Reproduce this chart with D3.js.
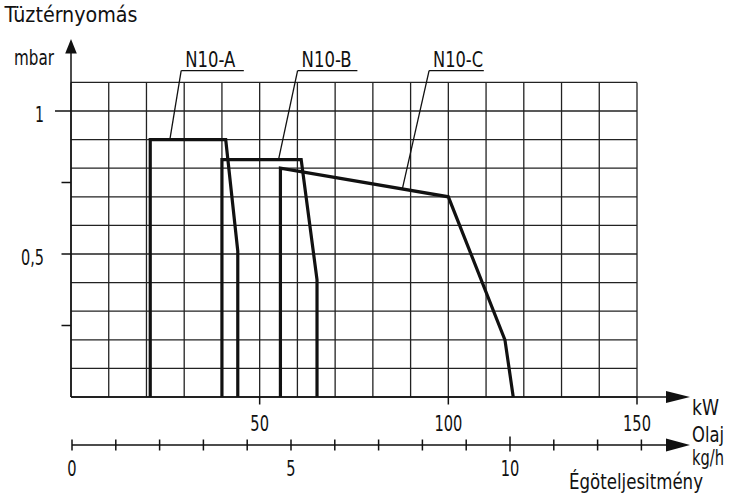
<!DOCTYPE html>
<html><head><meta charset="utf-8">
<script src="https://cdn.jsdelivr.net/npm/d3@7"></script>
<style>body{margin:0;background:#fff}</style></head>
<body><svg id="c" width="736" height="500"></svg>
<script>
// ---- data ----
const kwGridTicks = d3.range(0, 151, 10);
const mbarGridTicks = d3.range(0, 1.101, 0.1);
const kwTickLabels = [50, 100, 150];
const kgMinorTicks = d3.range(0, 14, 1);
const kgTickLabels = [0, 5, 10];
const yTickLabels = [{v: 1, t: "1"}, {v: 0.5, t: "0,5"}];
const yMinorTicks = [0.25, 0.75];
const seriesNames = ["N10-A", "N10-B", "N10-C"];
const seriesA = [[21, 0], [21, 0.9], [41, 0.9], [44.2, 0.51], [44.2, 0]];
const seriesB = [[40, 0], [40, 0.83], [61, 0.83], [65.2, 0.41], [65.2, 0]];
const seriesC = [[55.5, 0], [55.5, 0.8], [100, 0.7], [115, 0.2], [117.2, 0]];
const leaderTargets = [[26.2, 0.9], [55.0, 0.83], [87.8, 0.727]];

// ---- layout ----
const svg = d3.select("#c");
const x = d3.scaleLinear().domain([0, 150]).range([71, 637]);
const y = d3.scaleLinear().domain([0, 1.1]).range([397, 82.4]);
const kg = d3.scaleLinear().domain([0, 10]).range([72, 510]);
const ink = "#111";
const FONT = "'Liberation Sans Narrow','DejaVu Sans Condensed','Liberation Sans',sans-serif";

function txt(s, xx, yy, len, anchor) {
  return svg.append("text").attr("x", xx).attr("y", yy)
    .attr("font-family", FONT).attr("font-size", 21).attr("fill", ink)
    .attr("text-anchor", anchor || "start")
    .attr("textLength", len).attr("lengthAdjust", "spacingAndGlyphs")
    .text(s);
}

// grid
const g = svg.append("g").attr("stroke", "#222").attr("stroke-width", 1.3).attr("fill", "none");
g.selectAll("line.v").data(kwGridTicks).join("line")
  .attr("x1", d => x(d)).attr("x2", d => x(d)).attr("y1", y(0)).attr("y2", y(1.1));
g.selectAll("line.h").data(mbarGridTicks).join("line")
  .attr("x1", x(0)).attr("x2", x(150)).attr("y1", d => y(d)).attr("y2", d => y(d));

// axes
const ax = svg.append("g").attr("stroke", ink).attr("stroke-width", 1.5);
// y axis
ax.append("line").attr("x1", x(0)).attr("x2", x(0)).attr("y1", y(0)).attr("y2", 50);
svg.append("path").attr("fill", ink)
  .attr("d", `M${x(0)},39 L${x(0) + 5.8},53.5 L${x(0) - 5.8},53.5 Z`);
ax.selectAll("line.yt").data(yTickLabels).join("line")
  .attr("x1", d => d.v === 1 ? x(0) - 16 : x(0) - 9.5).attr("x2", x(0))
  .attr("y1", d => y(d.v)).attr("y2", d => y(d.v));
ax.selectAll("line.ym").data(yMinorTicks).join("line")
  .attr("x1", x(0) - 9.5).attr("x2", x(0))
  .attr("y1", d => y(d)).attr("y2", d => y(d));
// kW axis
ax.append("line").attr("x1", x(0)).attr("x2", 668).attr("y1", y(0)).attr("y2", y(0));
svg.append("path").attr("fill", ink)
  .attr("d", `M690,${y(0)} L666,${y(0) - 6} L666,${y(0) + 6} Z`);
ax.selectAll("line.kt").data(kwTickLabels).join("line")
  .attr("x1", d => x(d)).attr("x2", d => x(d)).attr("y1", y(0)).attr("y2", y(0) + 7.5);
// kg/h axis
const ky = 445;
ax.append("line").attr("x1", kg(0)).attr("x2", 668).attr("y1", ky).attr("y2", ky);
svg.append("path").attr("fill", ink)
  .attr("d", `M690,${ky} L666,${ky - 6.5} L666,${ky + 6.5} Z`);
ax.selectAll("line.gt").data(kgMinorTicks).join("line")
  .attr("x1", d => kg(d)).attr("x2", d => kg(d))
  .attr("y1", d => d === 10 ? ky - 8.5 : ky - 5.5).attr("y2", d => d === 10 ? ky + 6.5 : ky + 5.5);

// tick labels
yTickLabels.forEach(d => txt(d.t, 44, y(d.v) + 11, d.t.length === 1 ? 9 : 23, "end"));
kwTickLabels.forEach(d => txt(String(d), x(d), 430.5, String(d).length * 9.3, "middle"));
kgTickLabels.forEach(d => txt(String(d), kg(d), 475.5, String(d).length * 9.3, "middle"));

// axis titles
txt("Tüztérnyomás", 4.5, 21.5, 133);
txt("mbar", 14, 65, 40);
txt("kW", 692, 415, 27);
txt("Olaj", 692, 441.5, 32);
txt("kg/h", 692, 465, 32);
txt("Égöteljesitmény", 569, 488.5, 134);

// series curves
const line = d3.line().x(d => x(d[0])).y(d => y(d[1]));
const series = [seriesA, seriesB, seriesC];
svg.append("g").selectAll("path").data(series).join("path")
  .attr("d", line).attr("fill", "none").attr("stroke", ink)
  .attr("stroke-width", 3.2).attr("stroke-linejoin", "miter");

// labels with leaders
const underlineY = 70.7;
const underlineX = [[29.2, 45.8], [60.05, 75.9], [94.9, 109.4]];
const lg = svg.append("g").attr("stroke", ink).attr("stroke-width", 1.3).attr("fill", "none");
seriesNames.forEach((name, i) => {
  const [u0, u1] = underlineX[i];
  lg.append("line").attr("x1", x(u0)).attr("x2", x(u1)).attr("y1", underlineY).attr("y2", underlineY);
  const t = leaderTargets[i];
  lg.append("line").attr("x1", x(u0)).attr("y1", underlineY).attr("x2", x(t[0])).attr("y2", y(t[1]));
  txt(name, x(u0) + 4, 66.7, 50);
});
</script></body></html>
